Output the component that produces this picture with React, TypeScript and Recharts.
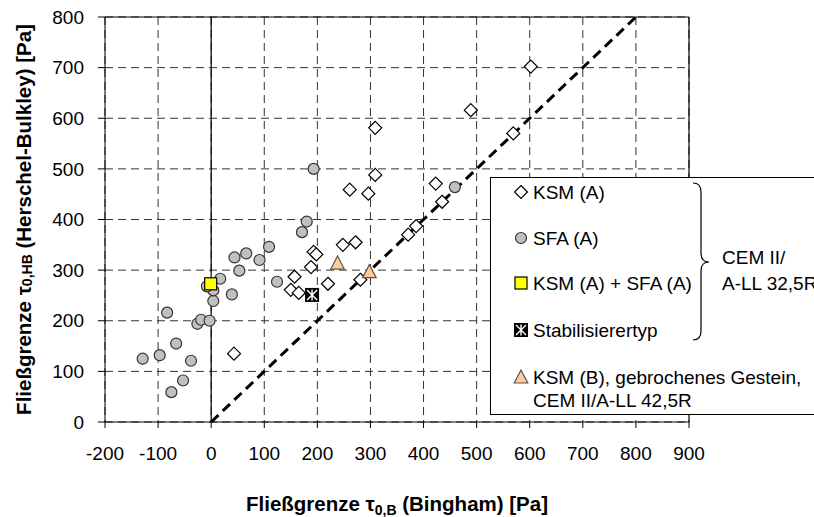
import { CartesianGrid, ReferenceLine, Scatter, ScatterChart, XAxis, YAxis } from 'recharts';

// Achsen
const xTicks = [-200, -100, 0, 100, 200, 300, 400, 500, 600, 700, 800, 900];
const yTicks = [0, 100, 200, 300, 400, 500, 600, 700, 800];

// Messwerte [tau0,B ; tau0,HB]
const ksmA: [number, number][] = [
    [43, 135], [150, 261], [157, 287], [165, 255], [188, 306], [193, 336], [198, 331],
    [220, 273], [248, 350], [261, 459], [272, 355], [281, 281], [296, 451], [309, 488],
    [309, 581], [371, 370], [386, 387], [423, 471], [435, 435], [489, 616], [569, 570],
    [602, 702],
];
const sfaA: [number, number][] = [
    [-129, 125], [-97, 132], [-83, 216], [-75, 59], [-66, 155], [-53, 82], [-38, 121],
    [-26, 194], [-19, 202], [-3, 200], [4, 239], [4, 260], [-8, 268], [17, 283],
    [39, 252], [44, 325], [53, 299], [66, 333], [91, 320], [109, 346], [124, 277],
    [171, 375], [180, 396], [193, 500], [459, 464],
];
const ksmSfaA: [number, number][] = [[-1, 273]];
const stabilisierer: [number, number][] = [[190, 251]];
const ksmB: [number, number][] = [[238, 314], [298, 297]];
const winkelhalbierende: [number, number][] = [[0, 0], [800, 800]];

const toPoints = (arr: [number, number][]) => arr.map(([x, y]) => ({ x, y }));

const FONT = '"Liberation Sans", Arial, sans-serif';

// Marker
const Diamond = ({ cx, cy }: any) => (
    <path d={`M${cx},${cy - 6.5}L${cx + 6.5},${cy}L${cx},${cy + 6.5}L${cx - 6.5},${cy}Z`} fill="#fff" stroke="#000" strokeWidth={1.2} />
);
const Circle = ({ cx, cy }: any) => (
    <circle cx={cx} cy={cy} r={5.5} fill="#c0c0c0" stroke="#333" strokeWidth={1.2} />
);
const Square = ({ cx, cy }: any) => (
    <rect x={cx - 6} y={cy - 6} width={12} height={12} fill="#ffff00" stroke="#000" strokeWidth={1.2} />
);
const Stab = ({ cx, cy }: any) => (
    <g>
        <rect x={cx - 7} y={cy - 7} width={14} height={14} fill="#000" />
        <path d={`M${cx},${cy - 5.5}V${cy + 5.5}M${cx - 5},${cy - 5}L${cx + 5},${cy + 5}M${cx + 5},${cy - 5}L${cx - 5},${cy + 5}`} stroke="#fff" strokeWidth={1.4} />
    </g>
);
const Triangle = ({ cx, cy }: any) => (
    <path d={`M${cx},${cy - 7}L${cx + 6.8},${cy + 6}L${cx - 6.8},${cy + 6}Z`} fill="#ffcc99" stroke="#555" strokeWidth={1.2} />
);

const XTitle = ({ viewBox }: any) => (
    <text x={viewBox.x + viewBox.width / 2} y={viewBox.y + 89} textAnchor="middle" fontFamily={FONT} fontWeight="bold" fontSize={20.5} fill="#000">
        Fließgrenze τ<tspan dy={4} fontSize={14}>0,B</tspan><tspan dy={-4}> (Bingham) [Pa]</tspan>
    </text>
);

const YTitle = ({ viewBox }: any) => {
    const cx = 23;
    const cy = viewBox.y + viewBox.height / 2;
    return (
        <text x={cx} y={cy} transform={`rotate(-90, ${cx}, ${cy})`} textAnchor="middle" dominantBaseline="central" fontFamily={FONT} fontWeight="bold" fontSize={20.5} fill="#000">
            Fließgrenze τ<tspan dy={4} fontSize={14}>0,HB</tspan><tspan dy={-4}>  (Herschel-Bulkley) [Pa]</tspan>
        </text>
    );
};

const LegendBox = () => (
    <svg width={324} height={240} style={{ position: 'absolute', left: 490, top: 177 }} fontFamily={FONT} fontSize={19}>
        <rect x={0.5} y={0.5} width={400} height={237} fill="#fff" stroke="#000" strokeWidth={1} />
        <Diamond cx={31} cy={15} />
        <text x={43} y={15} dy="0.35em">KSM (A)</text>
        <Circle cx={31} cy={61} />
        <text x={43} y={61} dy="0.35em">SFA (A)</text>
        <Square cx={31} cy={106} />
        <text x={43} y={106} dy="0.35em">KSM (A) + SFA (A)</text>
        <Stab cx={31} cy={153} />
        <text x={43} y={153} dy="0.35em">Stabilisierertyp</text>
        <Triangle cx={31} cy={200} />
        <text x={43} y={200} dy="0.35em">KSM (B), gebrochenes Gestein,</text>
        <text x={43} y={223} dy="0.35em">CEM II/A-LL 42,5R</text>
        <path d="M203,6 Q211,6 211,15 V76 Q211,85 219,85 Q211,85 211,94 V154 Q211,163 203,163" fill="none" stroke="#000" strokeWidth={1.2} />
        <text x={232} y={80} dy="0.35em">CEM II/</text>
        <text x={232} y={106} dy="0.35em">A-LL 32,5R</text>
    </svg>
);

const App = () => {
    return (
        <div style={{ position: 'absolute', left: 0, top: 0, width: 814, height: 517, overflow: 'hidden', background: '#fff' }}>
            <ScatterChart width={814} height={517} margin={{ top: 17, right: 125, bottom: 0, left: 0 }}>
                <CartesianGrid stroke="#333" strokeDasharray="8 5" />
                <XAxis
                    type="number"
                    dataKey="x"
                    domain={[-200, 900]}
                    ticks={xTicks}
                    interval={0}
                    allowDataOverflow
                    height={95}
                    stroke="#000"
                    tickSize={6}
                    tickMargin={19}
                    tick={{ fill: '#000', fontSize: 19, fontFamily: FONT }}
                    label={{ content: XTitle }}
                />
                <YAxis
                    type="number"
                    dataKey="y"
                    domain={[0, 800]}
                    ticks={yTicks}
                    interval={0}
                    allowDataOverflow
                    width={105}
                    stroke="#000"
                    tickSize={7}
                    tickMargin={14}
                    tick={{ fill: '#000', fontSize: 19, fontFamily: FONT }}
                    label={{ content: YTitle }}
                />
                <ReferenceLine x={0} stroke="#000" strokeWidth={1.2} />
                <ReferenceLine y={800} stroke="#000" strokeWidth={1.2} />
                <ReferenceLine x={900} stroke="#000" strokeWidth={1.2} />
                <ReferenceLine
                    segment={toPoints(winkelhalbierende)}
                    stroke="#000"
                    strokeWidth={3}
                    strokeDasharray="10 6"
                />
                <Scatter data={toPoints(ksmA)} shape={Diamond} isAnimationActive={false} />
                <Scatter data={toPoints(sfaA)} shape={Circle} isAnimationActive={false} />
                <Scatter data={toPoints(ksmSfaA)} shape={Square} isAnimationActive={false} />
                <Scatter data={toPoints(stabilisierer)} shape={Stab} isAnimationActive={false} />
                <Scatter data={toPoints(ksmB)} shape={Triangle} isAnimationActive={false} />
            </ScatterChart>
            <LegendBox />
        </div>
    );
};

export default App;
